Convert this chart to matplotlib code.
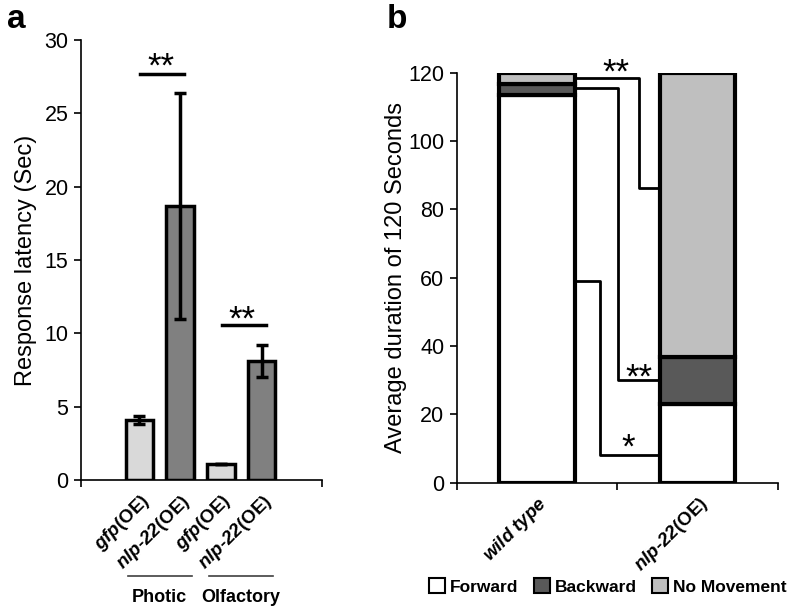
import numpy as np
import matplotlib
matplotlib.use("Agg")
from matplotlib import pyplot as plt
from matplotlib.patches import Patch

plt.rcParams['font.family'] = ['Liberation Sans', 'DejaVu Sans']
plt.rcParams['mathtext.fontset'] = 'custom'
plt.rcParams['mathtext.rm'] = 'Liberation Sans'
plt.rcParams['mathtext.it'] = 'Liberation Sans:italic'
plt.rcParams['mathtext.bf'] = 'Liberation Sans:bold'
plt.rcParams['mathtext.bfit'] = 'Liberation Sans:bold:italic'

# panel a: response latency
a_labels = ['$\\mathbfit{gfp}$(OE)', '$\\mathbfit{nlp}$-$\\mathbfit{22}$(OE)',
            '$\\mathbfit{gfp}$(OE)', '$\\mathbfit{nlp}$-$\\mathbfit{22}$(OE)']
a_values = [4.1, 18.7, 1.1, 8.1]
a_errors = [0.25, 7.7, 0.0, 1.1]
a_colors = ['#d9d9d9', '#808080', '#d9d9d9', '#808080']
a_groups = ['Photic', 'Olfactory']
a_sig_pairs = [(0, 1), (2, 3)]
a_sig_levels = [27.7, 10.55]
a_star_levels = [28.85, 11.6]

# panel b: stacked durations
b_labels = ['$\\mathbfit{wild\\ type}$', '$\\mathbfit{nlp}$-$\\mathbfit{22}$(OE)']
forward = [113.5, 23.0]
backward = [3.3, 13.7]
no_movement = [3.2, 83.3]
b_colors = ['white', '#595959', '#bfbfbf']
b_names = ['Forward', 'Backward', 'No Movement']
# brackets: level at wild type, elbow x, level at nlp-22, stars
br_start = [118.3, 115.4, 59.0]
br_elbow = [0.636, 0.502, 0.391]
br_end = [86.2, 30.0, 8.1]
br_stars = ['**', '**', '*']
br_star_pos = [(0.49, 122.8), (0.636, 33.6), (0.57, 13.1)]

STAR_SIZE = 25


def star(axis, x, y, s):
    # centre the asterisk glyphs (not the text box) on (x, y)
    axis.annotate(s, (x, y), xytext=(0, -0.56 * STAR_SIZE), textcoords='offset points',
                  ha='center', va='baseline', fontsize=STAR_SIZE, annotation_clip=False)


fig = plt.figure(figsize=(8, 6.16), dpi=100)

# ---------- panel a ----------
ax = fig.add_axes([0.10125, 0.2208, 0.30125, 0.7143])
x = np.arange(len(a_values))
ax.bar(x, a_values, width=0.67, color=a_colors, edgecolor='black', linewidth=2.5, zorder=2)
ax.errorbar(x, a_values, yerr=a_errors, fmt='none', ecolor='black', elinewidth=2.5,
            capsize=4, capthick=2.5, zorder=3)
ax.set_xlim(-1.43, 4.48)
ax.set_ylim(0, 30)
ax.set_yticks(np.arange(0, 31, 5))
ax.spines[['top', 'right']].set_visible(False)
ax.spines[['left', 'bottom']].set_linewidth(1.2)
ax.tick_params(axis='y', direction='out', length=5, width=1.2, labelsize=15.5, pad=4)
ax.set_xticks(x)
ax.set_xticklabels(a_labels, rotation=45, ha='right', rotation_mode='anchor',
                   fontsize=13.5, fontweight='bold')
ax.tick_params(axis='x', length=0, pad=8)
ax.set_xticks([-1.43, 4.48], minor=True)
ax.tick_params(axis='x', which='minor', length=5, width=1.2, direction='out')
ax.set_ylabel('Response latency (Sec)', fontsize=17, labelpad=5)

for (i, j), lev, slev in zip(a_sig_pairs, a_sig_levels, a_star_levels):
    ax.plot([i + 0.02, j + 0.1], [lev, lev], color='black', lw=2.5, clip_on=False)
    star(ax, (i + j) / 2 + 0.02, slev, '**')

trans = ax.get_xaxis_transform()
for k, name in enumerate(a_groups):
    c = 2 * k + 0.5
    ax.plot([c - 0.78, c + 0.78], [-0.218, -0.218], color='#404040', lw=1.2,
            transform=trans, clip_on=False)
    ax.text(c - 0.02, -0.268, name, transform=trans, ha='center', va='center',
            fontsize=13, fontweight='bold')

fig.text(0.02, 0.968, 'a', fontsize=24, fontweight='bold', va='center', ha='center')

# ---------- panel b ----------
bx = fig.add_axes([0.5709, 0.2164, 0.40125, 0.6656])
xb = np.arange(len(forward))
bottom = np.zeros(len(forward))
for vals, col in zip([forward, backward, no_movement], b_colors):
    bx.bar(xb, vals, bottom=bottom, width=0.47, color=col, edgecolor='black',
           linewidth=3, zorder=2)
    bottom += np.array(vals)
bx.set_xlim(-0.5, 1.5)
bx.set_ylim(0, 120)
bx.set_yticks(np.arange(0, 121, 20))
bx.spines[['top', 'right']].set_visible(False)
bx.spines[['left', 'bottom']].set_linewidth(1.2)
bx.tick_params(axis='y', direction='out', length=5, width=1.2, labelsize=15.5, pad=4)
bx.set_xticks(xb)
bx.set_xticklabels(b_labels, rotation=45, ha='right', rotation_mode='anchor',
                   fontsize=13.5, fontweight='bold')
bx.tick_params(axis='x', length=0, pad=8)
bx.set_xticks([-0.5, 0.5, 1.5], minor=True)
bx.tick_params(axis='x', which='minor', length=5, width=1.2, direction='out')
bx.set_ylabel('Average duration of 120 Seconds', fontsize=17, labelpad=1)

x0 = xb[0] + 0.235
x1 = xb[1] - 0.235
for s, e, ex, st, (sx, sy) in zip(br_start, br_elbow, br_end, br_stars, br_star_pos):
    bx.plot([x0, e, e, x1], [s, s, ex, ex], color='black', lw=2, zorder=1,
            clip_on=False)
    star(bx, sx, sy, st)

handles = [Patch(facecolor=c, edgecolor='black', linewidth=1.5) for c in b_colors]
fig.legend(handles, b_names, loc='center', bbox_to_anchor=(0.76, 0.048), ncol=3,
           frameon=False, handlelength=0.9, handleheight=0.9, handletextpad=0.3,
           columnspacing=0.9, borderpad=0.2, prop={'weight': 'bold', 'size': 12.5})

fig.text(0.496, 0.968, 'b', fontsize=24, fontweight='bold', va='center', ha='center')

fig.savefig('out.png', dpi=100)
